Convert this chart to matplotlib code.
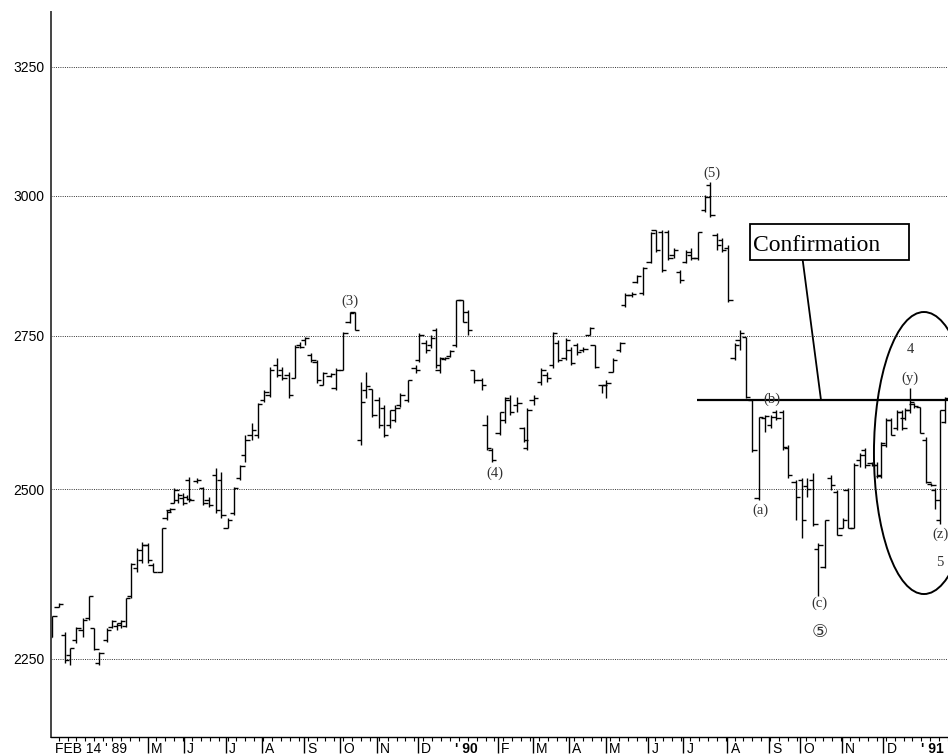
import matplotlib
matplotlib.use('Agg')
import matplotlib.pyplot as plt
import numpy as np
from matplotlib.patches import Ellipse, Rectangle
from matplotlib.ticker import FixedLocator, NullLocator, NullFormatter, FixedFormatter
import matplotlib.transforms as mtransforms

# ---- data: bar position in calendar days since FEB 14 '89, prices (OHLC) ----
days = [1, 6, 11, 15, 20, 25, 30, 34, 38, 44, 48, 52, 55, 59, 63, 68, 72, 76, 80, 87,
        91, 94, 97, 100, 104, 107, 109, 115, 120, 124, 130, 134, 139, 144, 149, 153, 158, 163, 168, 172,
        178, 182, 187, 192, 196, 200, 205, 209, 214, 220, 224, 230, 235, 239, 244, 248, 253, 258, 262, 267,
        271, 275, 281, 287, 290, 295, 299, 303, 306, 310, 314, 319, 324, 328, 333, 339, 343, 347, 353, 357,
        361, 367, 372, 375, 380, 386, 390, 395, 399, 405, 409, 414, 419, 424, 428, 434, 437, 442, 448, 452,
        457, 461, 466, 472, 476, 481, 486, 490, 495, 500, 504, 509, 515, 519, 524, 528, 533, 538, 542, 547,
        552, 557, 562, 567, 571, 576, 580, 586, 591, 595, 600, 604, 609, 614, 619, 623, 627, 632, 637, 641,
        646, 650, 653, 657, 661, 666, 670, 672, 676, 679, 684, 689, 693, 696, 700, 704]
highs = [2311, 2329, 2287, 2265, 2294, 2307, 2340, 2293, 2259, 2293, 2304, 2301, 2304, 2337, 2388, 2410, 2419, 2418, 2388, 2440,
         2467, 2471, 2502, 2494, 2494, 2491, 2519, 2517, 2503, 2488, 2533, 2527, 2456, 2503, 2538, 2585, 2605, 2637, 2659, 2697,
         2712, 2697, 2689, 2734, 2740, 2748, 2721, 2709, 2689, 2687, 2695, 2757, 2791, 2791, 2672, 2689, 2660, 2647, 2634, 2626,
         2634, 2654, 2675, 2700, 2755, 2743, 2752, 2764, 2714, 2714, 2726, 2812, 2812, 2794, 2692, 2678, 2618, 2564, 2623, 2647,
         2650, 2647, 2598, 2629, 2650, 2695, 2689, 2757, 2743, 2746, 2731, 2738, 2731, 2765, 2734, 2667, 2675, 2712, 2740, 2824,
         2826, 2856, 2870, 2933, 2937, 2937, 2937, 2904, 2865, 2901, 2904, 2933, 3002, 3026, 2932, 2923, 2910, 2738, 2760, 2748,
         2642, 2615, 2618, 2618, 2626, 2626, 2569, 2514, 2517, 2517, 2525, 2418, 2452, 2522, 2498, 2455, 2502, 2541, 2556, 2564,
         2542, 2542, 2574, 2613, 2613, 2626, 2626, 2629, 2662, 2637, 2631, 2582, 2509, 2502, 2626, 2647]
lows = [2280, 2323, 2244, 2241, 2272, 2280, 2304, 2262, 2241, 2273, 2293, 2290, 2293, 2294, 2337, 2374, 2388, 2388, 2374, 2374,
        2452, 2464, 2478, 2478, 2475, 2483, 2480, 2509, 2475, 2472, 2463, 2456, 2440, 2460, 2514, 2542, 2577, 2580, 2639, 2647,
        2680, 2675, 2645, 2678, 2729, 2734, 2706, 2670, 2667, 2680, 2659, 2692, 2772, 2760, 2569, 2645, 2615, 2596, 2582, 2596,
        2606, 2631, 2639, 2687, 2706, 2721, 2729, 2695, 2687, 2709, 2714, 2731, 2774, 2752, 2670, 2659, 2561, 2542, 2585, 2605,
        2618, 2623, 2574, 2561, 2634, 2667, 2672, 2695, 2706, 2709, 2700, 2718, 2723, 2752, 2695, 2654, 2645, 2689, 2723, 2799,
        2817, 2842, 2820, 2878, 2897, 2861, 2883, 2886, 2842, 2878, 2883, 2883, 2970, 2961, 2901, 2897, 2809, 2709, 2726, 2645,
        2558, 2483, 2590, 2596, 2610, 2561, 2517, 2452, 2425, 2488, 2444, 2340, 2380, 2498, 2429, 2440, 2440, 2441, 2534, 2533,
        2536, 2517, 2517, 2566, 2585, 2593, 2593, 2610, 2621, 2629, 2588, 2509, 2505, 2470, 2447, 2605]
opens = [2280, 2324, 2283, 2255, 2276, 2290, 2307, 2293, 2244, 2276, 2294, 2296, 2297, 2296, 2339, 2380, 2392, 2415, 2385, 2375,
         2455, 2467, 2478, 2483, 2486, 2488, 2514, 2512, 2502, 2483, 2522, 2514, 2440, 2463, 2517, 2553, 2585, 2585, 2642, 2650,
         2700, 2692, 2684, 2678, 2734, 2743, 2718, 2706, 2667, 2682, 2662, 2692, 2774, 2791, 2577, 2659, 2660, 2642, 2629, 2601,
         2610, 2634, 2642, 2695, 2709, 2738, 2734, 2760, 2692, 2711, 2716, 2734, 2812, 2791, 2692, 2675, 2601, 2561, 2588, 2610,
         2642, 2634, 2596, 2564, 2642, 2672, 2684, 2700, 2738, 2712, 2726, 2734, 2726, 2752, 2734, 2667, 2667, 2689, 2726, 2803,
         2820, 2843, 2824, 2879, 2937, 2933, 2933, 2892, 2861, 2879, 2892, 2886, 2974, 3020, 2928, 2919, 2904, 2712, 2743, 2748,
         2642, 2486, 2613, 2601, 2623, 2623, 2564, 2511, 2514, 2505, 2514, 2409, 2382, 2517, 2495, 2440, 2498, 2441, 2545, 2561,
         2541, 2538, 2520, 2569, 2610, 2596, 2623, 2613, 2626, 2636, 2631, 2577, 2508, 2498, 2452, 2606]
closes = [2311, 2327, 2248, 2265, 2293, 2304, 2339, 2263, 2258, 2291, 2303, 2300, 2303, 2337, 2386, 2407, 2415, 2392, 2375, 2440,
          2465, 2470, 2498, 2491, 2478, 2485, 2483, 2514, 2478, 2475, 2467, 2460, 2452, 2502, 2536, 2577, 2593, 2636, 2655, 2692,
          2684, 2678, 2650, 2731, 2731, 2746, 2709, 2675, 2687, 2685, 2692, 2755, 2789, 2760, 2639, 2665, 2618, 2601, 2585, 2626,
          2629, 2650, 2675, 2692, 2752, 2726, 2746, 2700, 2712, 2712, 2724, 2812, 2774, 2760, 2675, 2667, 2564, 2545, 2623, 2645,
          2623, 2637, 2577, 2626, 2645, 2692, 2678, 2755, 2709, 2743, 2704, 2723, 2728, 2764, 2697, 2667, 2670, 2709, 2738, 2820,
          2822, 2854, 2868, 2932, 2901, 2865, 2886, 2901, 2847, 2897, 2886, 2933, 2998, 2964, 2910, 2901, 2812, 2734, 2755, 2647,
          2561, 2615, 2616, 2615, 2613, 2566, 2522, 2488, 2452, 2500, 2447, 2415, 2452, 2506, 2429, 2452, 2441, 2538, 2553, 2538,
          2538, 2522, 2572, 2610, 2585, 2623, 2596, 2626, 2639, 2632, 2588, 2511, 2506, 2483, 2626, 2645]

ytick_values = [2250, 2500, 2750, 3000, 3250]
ytick_labels = ['2250', '2500', '2750', '3000', '3250']
month_ticks = [76.0, 104.3, 137.6, 166.2, 199.3, 227.4, 256.3, 289.0, 352.0, 379.6,
               407.9, 436.9, 470.1, 497.7, 532.4, 565.4, 589.6, 622.4, 655.2]
month_labels = ['M', 'J', 'J', 'A', 'S', 'O', 'N', 'D', 'F', 'M',
                'A', 'M', 'J', 'J', 'A', 'S', 'O', 'N', 'D']
year_positions = [3.0, 318.0, 685.0]
year_labels = ["FEB 14 ' 89", "' 90", "' 91"]
year_bold = [False, True, True]

confirm_level = 2642
confirm_start = 508.5

wave_labels = ['(3)', '(4)', '(5)', '(a)', '(b)', '(c)', '\u2464', '4', '(y)', '(z)', '5']
wave_x = [235.3, 349.4, 520.1, 558.1, 567.4, 604.8, 605.4, 676.2, 676.2, 699.8, 699.8]
wave_y = [2809, 2525, 3043, 2467, 2643, 2329, 2287, 2726, 2679, 2431, 2389]

# ---- figure ----
fig = plt.figure(figsize=(9.48, 7.55), dpi=100)
ax = fig.add_axes([51 / 948, 18 / 755, 897 / 948, 725 / 755])
ax.set_yscale('log')
ax.set_ylim(2143, 3363)
ax.set_xlim(0, 706)

# OHLC bars
d = np.array(days, dtype=float)
tw = 3.4
ax.vlines(d, lows, highs, colors='black', lw=1.0, capstyle='butt')
ax.hlines(opens, d - tw, d, colors='black', lw=1.0, capstyle='butt')
ax.hlines(closes, d, d + tw, colors='black', lw=1.0, capstyle='butt')

# confirmation level
ax.hlines(confirm_level, confirm_start, 706, colors='black', lw=1.6)

# axes styling
for s in ['top', 'right']:
    ax.spines[s].set_visible(False)
ax.spines['left'].set_color('#444444')
ax.spines['left'].set_linewidth(1.4)
ax.spines['bottom'].set_color('black')
ax.spines['bottom'].set_linewidth(1.0)

ax.yaxis.set_major_locator(FixedLocator(ytick_values))
ax.yaxis.set_major_formatter(FixedFormatter(ytick_labels))
ax.yaxis.set_minor_locator(NullLocator())
ax.yaxis.set_minor_formatter(NullFormatter())
ax.tick_params(axis='y', which='major', length=0, pad=5, labelsize=10)
for lab in ax.get_yticklabels():
    lab.set_family('Liberation Sans')
ax.grid(axis='y', which='major', color='#333333', linestyle=(0, (1, 1.3)), lw=0.7)

week_ticks = np.arange(6, 707, 7)
ax.xaxis.set_major_locator(FixedLocator(month_ticks))
ax.xaxis.set_major_formatter(NullFormatter())
ax.xaxis.set_minor_locator(FixedLocator(week_ticks))
ax.xaxis.set_minor_formatter(NullFormatter())
ax.tick_params(axis='x', which='major', length=11.5, width=1.0, direction='out', color='black')
ax.tick_params(axis='x', which='minor', length=3.2, width=0.8, direction='out', color='black')

trans = mtransforms.blended_transform_factory(ax.transData, ax.transAxes)
for pos, lab in zip(month_ticks, month_labels):
    ax.annotate(lab, xy=(pos, 0), xycoords=trans, xytext=(2.2, -3.6), textcoords='offset points',
                ha='left', va='top', fontsize=10, family='Liberation Sans', annotation_clip=False)
for pos, lab, b in zip(year_positions, year_labels, year_bold):
    ax.annotate(lab, xy=(pos, 0), xycoords=trans, xytext=(0, -3.6), textcoords='offset points',
                ha='left', va='top', fontsize=10, family='Liberation Sans',
                fontweight='bold' if b else 'normal', annotation_clip=False)

# wave labels
for lab, x, y in zip(wave_labels, wave_x, wave_y):
    fs = 13 if lab == '\u2464' else 10.5
    ax.text(x, y, lab, ha='center', va='center', fontsize=fs, color='#333333',
            family=['Liberation Serif', 'DejaVu Sans'])

# confirmation box and leader
ax.add_patch(Rectangle((0.7793, 0.6579), 0.9569 - 0.7793, 0.7076 - 0.6579, transform=ax.transAxes,
                       facecolor='white', edgecolor='black', lw=1.3, zorder=4))
ax.text(0.7826, 0.6708, 'Confirmation', transform=ax.transAxes, fontsize=17,
        family='Liberation Serif', ha='left', va='baseline', zorder=5)
ax.plot([0.838, 0.8584], [0.6579, 0.4648], transform=ax.transAxes, color='black', lw=1.3)

# ellipse
ax.add_patch(Ellipse((0.9732, 0.3917), 0.1115, 0.389, transform=ax.transAxes,
                     fill=False, edgecolor='black', lw=1.4))

fig.savefig('out.png', dpi=100)
